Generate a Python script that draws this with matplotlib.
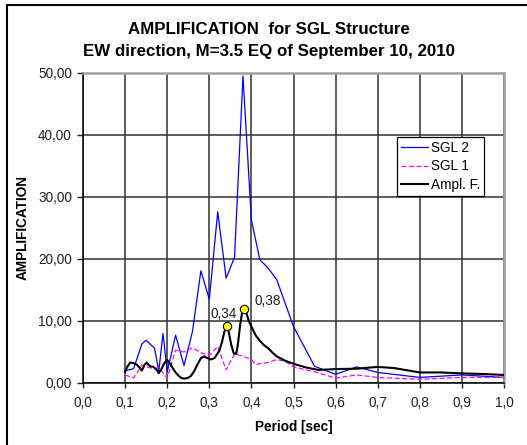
import matplotlib
matplotlib.use('Agg')
import matplotlib.pyplot as plt
from matplotlib.patches import Rectangle
from matplotlib.ticker import FuncFormatter

plt.rcParams['font.family'] = ['Liberation Sans', 'DejaVu Sans']

# SGL 2 (blue)
sgl2_t = [0.10, 0.12, 0.14, 0.15, 0.17, 0.18, 0.19, 0.20, 0.22, 0.24, 0.26, 0.28,
          0.30, 0.32, 0.34, 0.36, 0.38, 0.40, 0.42, 0.44, 0.46, 0.50, 0.55, 0.60,
          0.65, 0.70, 0.80, 0.90, 1.00]
sgl2_a = [2.0, 2.3, 6.3, 6.9, 5.6, 1.9, 8.0, 1.8, 7.7, 2.8, 8.3, 18.1,
          13.5, 27.6, 16.9, 20.3, 49.5, 26.3, 19.9, 18.5, 16.7, 9.1, 2.7, 1.4,
          2.6, 1.7, 0.9, 1.3, 0.9]

# SGL 1 (magenta, dashed)
sgl1_t = [0.10, 0.12, 0.14, 0.15, 0.17, 0.18, 0.20, 0.22, 0.24, 0.26, 0.28, 0.30,
          0.32, 0.34, 0.36, 0.38, 0.40, 0.41, 0.44, 0.46, 0.48, 0.50, 0.55, 0.60,
          0.65, 0.70, 0.80, 0.90, 1.00]
sgl1_a = [1.3, 0.8, 2.9, 2.6, 2.3, 2.5, 0.8, 5.3, 5.0, 5.7, 4.9, 4.4,
          5.9, 2.1, 4.7, 4.3, 3.8, 3.0, 3.3, 3.8, 3.5, 2.6, 1.8, 0.8,
          1.3, 0.9, 0.6, 0.9, 0.9]

# amplification function (black)
ampl_t = [0.100, 0.105, 0.112, 0.120, 0.127, 0.133, 0.140, 0.146, 0.151, 0.156, 0.160,
          0.167, 0.174, 0.180, 0.187, 0.193, 0.200, 0.207, 0.214, 0.220, 0.228,
          0.234, 0.240, 0.248, 0.256, 0.264, 0.272, 0.280, 0.288, 0.296, 0.304,
          0.312, 0.318, 0.324, 0.330, 0.336, 0.341, 0.346, 0.352, 0.358, 0.364,
          0.368, 0.373, 0.378, 0.382, 0.388, 0.394, 0.400, 0.410, 0.420, 0.430,
          0.440, 0.450, 0.460, 0.480, 0.500, 0.530, 0.560, 0.600, 0.650, 0.700,
          0.740, 0.800, 0.850, 0.900, 0.950, 1.000]
ampl_a = [1.8, 2.6, 3.3, 3.2, 3.0, 2.6, 2.0, 2.9, 3.3, 2.9, 2.7,
          2.6, 2.2, 1.6, 2.3, 3.2, 3.7, 3.1, 2.3, 1.7, 1.1,
          0.8, 0.7, 0.8, 1.1, 1.9, 3.0, 4.0, 4.3, 4.0, 3.8,
          4.0, 4.6, 5.2, 6.6, 8.3, 9.2, 8.3, 6.2, 4.8, 4.7,
          6.3, 9.2, 11.4, 12.0, 11.3, 10.0, 9.1, 7.7, 6.8, 6.1,
          5.6, 4.9, 4.3, 3.6, 3.1, 2.5, 2.1, 2.25, 2.3, 2.6,
          2.4, 1.7, 1.7, 1.55, 1.45, 1.3]

# marked peaks of the amplification function
peak_t = [0.341, 0.382]
peak_a = [9.2, 12.0]
peak_labels = ['0,34', '0,38']
peak_offsets = [(-3, 12), (24, 8)]

x_ticks = [0.0, 0.1, 0.2, 0.3, 0.4, 0.5, 0.6, 0.7, 0.8, 0.9, 1.0]
y_ticks = [0, 10, 20, 30, 40, 50]


def main():
    fig = plt.figure(figsize=(5.27, 4.45), dpi=100)
    ax = fig.add_axes([83 / 527, 62 / 445, 421 / 527, 310 / 445])

    ax.plot(sgl2_t, sgl2_a, color='#0000ff', linewidth=0.9, label='SGL 2', zorder=3)
    ax.plot(sgl1_t, sgl1_a, color='#ff00ff', linewidth=0.9, linestyle=(0, (4, 2)),
            label='SGL 1', zorder=3)
    ax.plot(ampl_t, ampl_a, color='black', linewidth=1.5, label='Ampl. F.', zorder=4)

    ax.scatter(peak_t, peak_a, s=36, color='#ffff00', edgecolor='black',
               linewidth=0.8, zorder=5)
    for t, a, lab, off in zip(peak_t, peak_a, peak_labels, peak_offsets):
        ax.annotate(lab, (t, a), xytext=off, textcoords='offset pixels',
                    ha='center', va='center', fontsize=9.8, color='#202020')

    ax.set_xlim(0, 1.0)
    ax.set_ylim(0, 50)
    ax.set_xticks(x_ticks)
    ax.set_yticks(y_ticks)
    ax.xaxis.set_major_formatter(FuncFormatter(lambda v, p: f'{v:.1f}'.replace('.', ',')))
    ax.yaxis.set_major_formatter(FuncFormatter(lambda v, p: f'{v:.2f}'.replace('.', ',')))
    ax.tick_params(axis='both', direction='out', width=1, labelsize=9.8,
                   colors='#202020')
    ax.tick_params(axis='y', length=4.5, pad=3.5)
    ax.tick_params(axis='x', length=3.5, pad=6)

    ax.grid(True, color='#303030', linewidth=1.1)
    ax.set_axisbelow(True)
    for side in ['left', 'bottom']:
        ax.spines[side].set_color('black')
        ax.spines[side].set_linewidth(1.1)
    for side in ['top', 'right']:
        ax.spines[side].set_color('#a0a0a0')
        ax.spines[side].set_linewidth(1.8)

    ax.set_ylabel('AMPLIFICATION', fontsize=9.8, fontweight='bold', labelpad=6)
    ax.set_xlabel('Period [sec]', fontsize=9.8, fontweight='bold', labelpad=7)

    fig.text(269 / 527, 1 - 29.5 / 445, 'AMPLIFICATION  for SGL Structure',
             ha='center', va='center', fontsize=12.2, fontweight='bold')
    fig.text(269 / 527, 1 - 51.5 / 445, 'EW direction, M=3.5 EQ of September 10, 2010',
             ha='center', va='center', fontsize=12.2, fontweight='bold')

    leg = ax.legend(loc='upper left', bbox_to_anchor=(314 / 421, 1 - 64 / 310),
                    fontsize=9.8, frameon=True, fancybox=False, borderpad=0.3,
                    handlelength=1.95, handletextpad=0.25, labelspacing=0.32,
                    borderaxespad=0)
    leg.get_frame().set_edgecolor('black')
    leg.get_frame().set_linewidth(0.9)
    leg.get_frame().set_alpha(1)

    # chart border
    fig.patches.append(Rectangle((7 / 527, -0.1), 1.0, 1.1 - 5 / 445,
                                 transform=fig.transFigure, fill=False,
                                 edgecolor='black', linewidth=1.5))

    fig.savefig('out.png', dpi=100)


if __name__ == "__main__":
    main()
